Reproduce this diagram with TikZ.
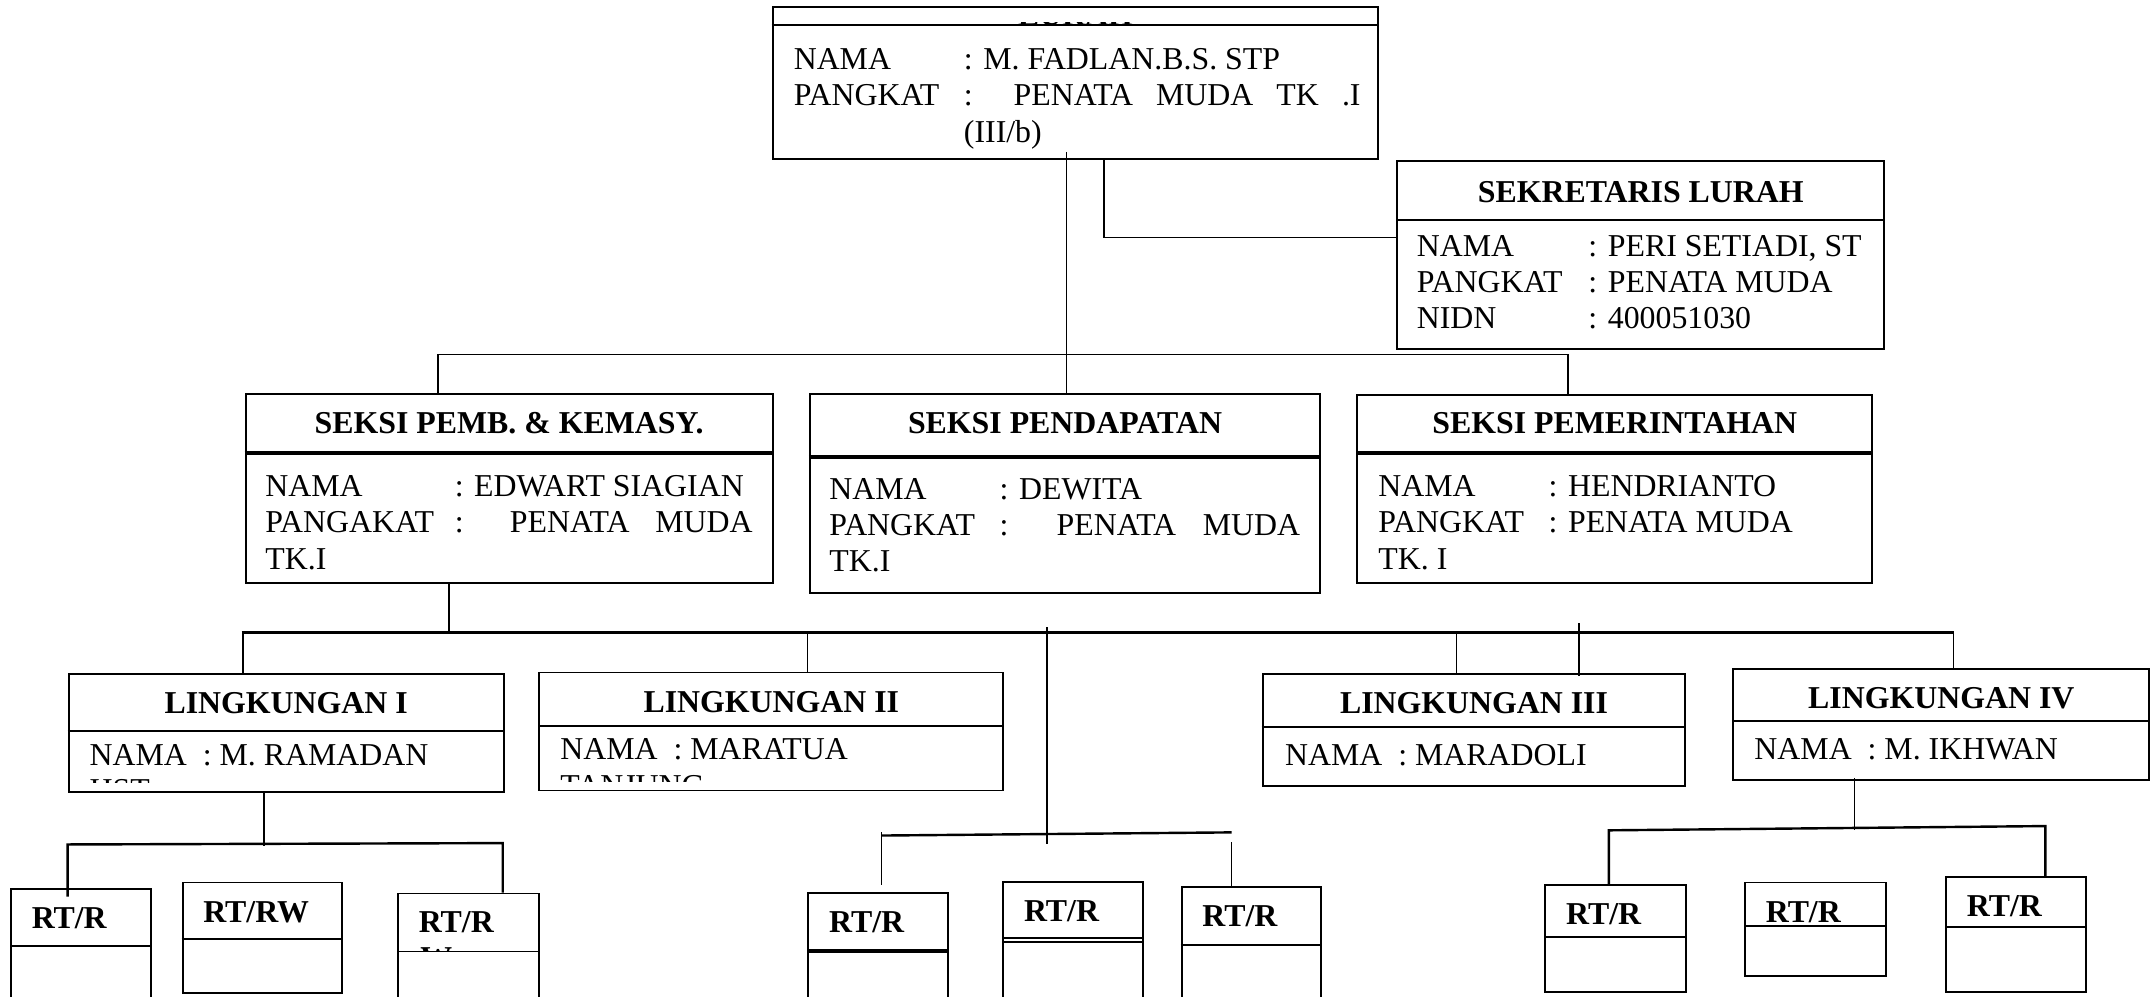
\documentclass[tikz,border=0pt]{standalone}
\usepackage{fontspec}
\setmainfont{Liberation Serif}
\usetikzlibrary{fit,calc}

\newcommand{\isifont}{\fontsize{13.2}{15.2}\selectfont}
\newcommand{\judulfont}{\fontsize{13.2}{15.2}\selectfont\bfseries}
\newcommand{\rata}[2]{\makebox[#1mm][s]{#2}}

\begin{document}
\begin{tikzpicture}[x=0.2mm, y=-0.2mm,
    kotak/.style={draw, line width=0.8pt, inner sep=0pt},
    sekat/.style={line width=0.8pt},
    sekattebal/.style={line width=1.7pt},
    garis/.style={line width=0.7pt},
    bus/.style={line width=1pt},
    isi/.style={anchor=base west, inner sep=0pt, font=\isifont},
    judul/.style={anchor=base, inner sep=0pt, font=\judulfont},
    rt/.style={anchor=base west, inner sep=0pt, font=\judulfont}]

    \clip (0,0) rectangle (1568,726);
    \fill[white] (0,0) rectangle (1568,726);

    %% Boxes
    \node[kotak, fit={(563,5) (1004,116)}] (lurah) {};
    \node[kotak, fit={(1018,117) (1373,254)}] (sekretaris) {};
    \node[kotak, fit={(179,287) (563,425)}] (pemb) {};
    \node[kotak, fit={(590,287) (962,432)}] (pendapatan) {};
    \node[kotak, fit={(989,288) (1364,425)}] (pemerintahan) {};
    \node[kotak, fit={(50,491) (367,577)}] (ling1) {};
    \node[kotak, fit={(393,490) (731,576)}] (ling2) {};
    \node[kotak, fit={(920,491) (1228,573)}] (ling3) {};
    \node[kotak, fit={(1263,487.5) (1566,568)}] (ling4) {};
    \node[kotak, fit={(8,648) (110,740)}] (rt1) {};
    \node[kotak, fit={(133,643) (249,723.5)}] (rt2) {};
    \node[kotak, fit={(290,651) (393,740)}] (rt3) {};
    \node[kotak, fit={(589,650.5) (691,740)}] (rt4) {};
    \node[kotak, fit={(731,642.5) (833,740)}] (rt5) {};
    \node[kotak, fit={(861,646.5) (962.5,740)}] (rt6) {};
    \node[kotak, fit={(1126,645) (1228.5,723)}] (rt7) {};
    \node[kotak, fit={(1271.5,643) (1374,711)}] (rt8) {};
    \node[kotak, fit={(1418,639) (1520,723)}] (rt9) {};

    %% Title rows
    \foreach \b/\d in {lurah/14, sekretaris/44, ling1/42, ling2/40, ling3/39.5, ling4/38.5,
        rt1/42, rt2/42, rt3/43, rt5/41.9, rt5/44.8, rt6/42.5, rt7/38.5, rt8/32.5, rt9/37}
        \draw[sekat] ($(\b.north west)+(0,\d)$) -- ($(\b.north east)+(0,\d)$);
    \foreach \b/\d in {pemb/44, pendapatan/47, pemerintahan/43, rt4/43}
        \draw[sekattebal] ($(\b.north west)+(0,\d)$) -- ($(\b.north east)+(0,\d)$);

    %% Titles
    \node[judul] (tsek) at ($(sekretaris.north)+(0,31)$) {SEKRETARIS LURAH};
    \node[judul] (tpemb) at ($(pemb.north)+(0,29.7)$) {SEKSI PEMB. \& KEMASY.};
    \node[judul] (tpend) at ($(pendapatan.north)+(0,29.7)$) {SEKSI PENDAPATAN};
    \node[judul] (tpem) at ($(pemerintahan.north)+(0,28.7)$) {SEKSI PEMERINTAHAN};
    \node[judul] (tling1) at ($(ling1.north)+(0,29.7)$) {LINGKUNGAN I};
    \node[judul] (tling2) at ($(ling2.north)+(0,29.7)$) {LINGKUNGAN II};
    \node[judul] (tling3) at ($(ling3.north)+(0,29.7)$) {LINGKUNGAN III};
    \node[judul] (tling4) at ($(ling4.north)+(0,29.2)$) {LINGKUNGAN IV};
    \foreach \b/\t in {rt1/RT\slash R, rt2/RT\slash RW, rt3/RT\slash R, rt4/RT\slash R, rt5/RT\slash R,
        rt6/RT\slash R, rt7/RT\slash R, rt8/RT\slash R, rt9/RT\slash R}
        \node[rt] (t\b) at ($(\b.north west)+(15.5,29.5)$) {\t};

    %% Clipped lines
    \begin{scope}
        \clip ($(lurah.north west)+(1,12.4)$) rectangle ($(lurah.north east)+(-1,13.7)$);
        \node[judul] (tlurah) at ($(lurah.north)+(0,14)$) {LURAH};
    \end{scope}
    \begin{scope}
        \clip ($(ling1.north west)+(1,43)$) rectangle ($(ling1.south east)+(-1,-7.2)$);
        \node[isi] (hst) at (65,583) {HST};
    \end{scope}
    \begin{scope}
        \clip ($(ling2.north west)+(1,41)$) rectangle ($(ling2.south east)+(-1,-7)$);
        \node[isi] (tanjung) at (408,580) {TANJUNG};
    \end{scope}
    \begin{scope}
        \clip ($(rt3.north west)+(1,1)$) rectangle ($(rt3.north east)+(-1,42.4)$);
        \node[rt] (rtw) at (306,706) {W};
    \end{scope}

    %% Lurah
    \node[isi] (lu1) at (578,50.7) {NAMA};
    \node[isi] (lu2) at (702,50.7) {: M. FADLAN.B.S. STP};
    \node[isi] (lu3) at (578,77.2) {PANGKAT};
    \node[isi] (lu4) at (702,77.2) {\rata{57.8}{: PENATA MUDA TK .I}};
    \node[isi] (lu5) at (702,103.7) {(III/b)};

    %% Sekretaris
    \node[isi] (se1) at (1032,186.7) {NAMA};
    \node[isi] (se2) at (1157,186.7) {: PERI SETIADI, ST};
    \node[isi] (se3) at (1032,213.2) {PANGKAT};
    \node[isi] (se4) at (1157,213.2) {: PENATA MUDA};
    \node[isi] (se5) at (1032,239.7) {NIDN};
    \node[isi] (se6) at (1157,239.7) {: 400051030};

    %% Seksi
    \node[isi] (pb1) at (193,361.7) {NAMA};
    \node[isi] (pb2) at (331,361.7) {: EDWART SIAGIAN};
    \node[isi] (pb3) at (193,388.2) {PANGAKAT};
    \node[isi] (pb4) at (331,388.2) {\rata{43.4}{: PENATA MUDA}};
    \node[isi] (pb5) at (193,414.7) {TK.I};
    \node[isi] (pd1) at (604,363.7) {NAMA};
    \node[isi] (pd2) at (728,363.7) {: DEWITA};
    \node[isi] (pd3) at (604,390.2) {PANGKAT};
    \node[isi] (pd4) at (728,390.2) {\rata{43.8}{: PENATA MUDA}};
    \node[isi] (pd5) at (604,416.7) {TK.I};
    \node[isi] (pm1) at (1004,361.7) {NAMA};
    \node[isi] (pm2) at (1128,361.7) {: HENDRIANTO};
    \node[isi] (pm3) at (1004,388.2) {PANGKAT};
    \node[isi] (pm4) at (1128,388.2) {: PENATA MUDA};
    \node[isi] (pm5) at (1004,414.7) {TK. I};

    %% Lingkungan
    \node[isi] (li1) at (65,557.7) {NAMA\ \ : M. RAMADAN};
    \node[isi] (li2) at (408,553.7) {NAMA\ \ : MARATUA};
    \node[isi] (li3) at (936,557.7) {NAMA\ \ : MARADOLI};
    \node[isi] (li4) at (1278,553.7) {NAMA\ \ : M. IKHWAN};

    %% Lurah to seksi and sekretaris
    \draw[garis] ($(pendapatan.north |- lurah.south)+(1,-6)$) -- ($(pendapatan.north)+(1,0)$);
    \draw[garis] ($(lurah.south west)+(242,0)$) |- ($(sekretaris.west)+(0,-12.5)$);
    \draw[garis] ($(pemb.north west)+(141,0)$) -- ++(0,-28) -| ($(pemerintahan.north west)+(154,0)$);

    %% Seksi to lingkungan
    \coordinate (busL) at (176,461);
    \coordinate (busR) at (1424,461);
    \draw[garis] ($(pemb.south west)+(149,0)$) -- ++(0,36);
    \draw[bus] (busL) -- (busR);
    \draw[garis] ($(ling1.north west)+(128,0)$) -- ++(0,-30);
    \draw[garis] ($(ling2.north west)+(196,0)$) -- ++(0,-29);
    \draw[garis] ($(ling3.north west)+(142,0)$) -- ++(0,-30);
    \draw[garis] ($(ling3.north west)+(231,2)$) -- ++(0,-38);
    \draw[garis] ($(ling4.north west)+(161,0)$) -- ++(0,-26.5);
    \coordinate (tengah) at (763,457);
    \draw[garis] (tengah) -- ++(0,158);

    %% Lingkungan I to RT
    \draw[garis] ($(ling1.south west)+(143,0)$) -- ++(0,38.5);
    \draw[bus] ($(rt1.north west)+(42,6)$) -- ($(rt1.north west)+(42,-32)$)
        -- ($(rt3.north west)+(77,-36)$) -- ($(rt3.north west)+(77,0)$);

    %% Middle RT
    \draw[bus] ($(rt4.north west)+(54,-41)$) -- ($(rt6.north west)+(37,-39.3)$);
    \draw[garis] ($(rt4.north west)+(54,-5)$) -- ($(rt4.north west)+(54,-43.5)$);
    \draw[garis] ($(rt6.north west)+(37,0)$) -- ++(0,-32.5);

    %% Lingkungan IV to RT
    \draw[garis] ($(ling4.south west)+(89,-2)$) -- ++(0,38);
    \draw[bus] ($(rt7.north west)+(47,0)$) -- ($(rt7.north west)+(47,-39.3)$)
        -- ($(rt9.north west)+(73,-36.4)$) -- ($(rt9.north west)+(73,0)$);
\end{tikzpicture}
\end{document}
